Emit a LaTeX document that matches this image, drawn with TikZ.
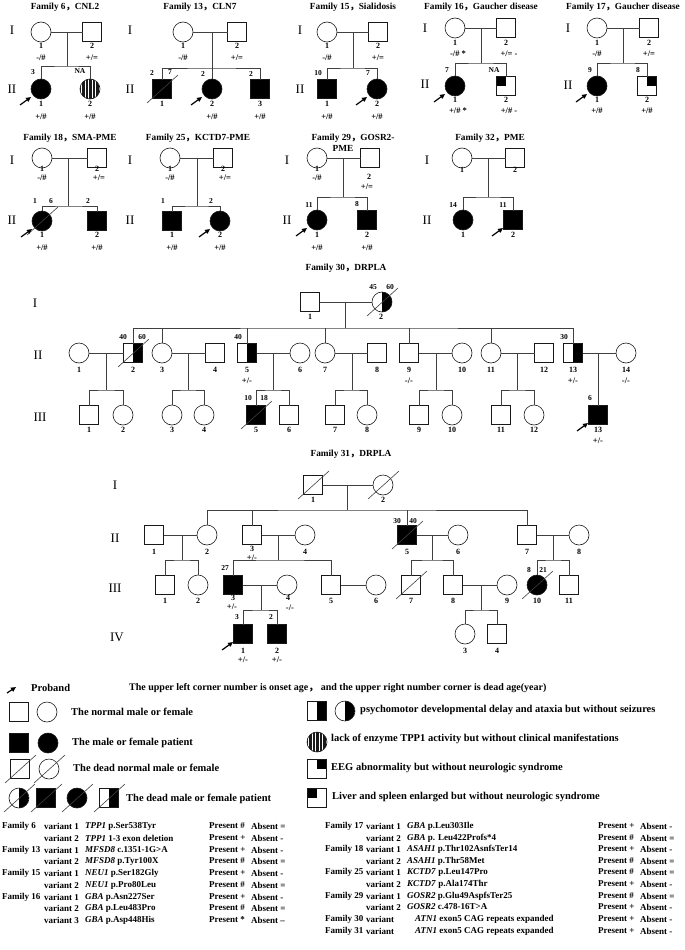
\documentclass[tikz,border=0pt]{standalone}
\usepackage{fontspec}
\setmainfont{Liberation Serif}
\newfontfamily\cjk{Noto Sans CJK SC}
\usetikzlibrary{arrows.meta}
\newcommand\tx[5]{\node[#1] (#2) at (#3,#4) {#5};}
\newcommand\dslash[1]{\draw[ln] ([shift={(-15,14)}]#1.center) -- ([shift={(16,-14)}]#1.center);}
\newcommand\prob[1]{\draw[parr] ([shift={(-21,16)}]#1.center) -- ([shift={(-10,8)}]#1.center);}
\newcommand\fwc{{\cjk ，}}
\newcommand\lrow[7]{%
 \node[tab] (#1f) at (2,#2) {#3};
 \node[tab] (#1v) at (44,#2) {#4};
 \node[tab] (#1g) at (85,#2) {#5};
 \node[tab] (#1p) at (209,#2) {#6};
 \node[tab] (#1a) at (251,#2) {#7};}
\newcommand\rrow[8]{%
 \node[tab] (#1f) at (325,#2) {#3};
 \node[tab] (#1v) at (366,#2) {#4};
 \node[tab] (#1g) at (#8,#2) {#5};
 \node[tab] (#1p) at (598,#2) {#6};
 \node[tab] (#1a) at (640,#2) {#7};}
\tikzset{
 ln/.style={draw=black!75, line width=0.6pt},
 sym/.style={draw=black!90, line width=0.6pt, inner sep=0pt, outer sep=0pt},
 male/.style={sym, shape=rectangle, minimum width=19pt, minimum height=19pt},
 female/.style={sym, shape=circle, minimum size=20pt},
 aff/.style={fill=black},
 halfr/.style={path picture={\fill[black] (path picture bounding box.north) rectangle (path picture bounding box.south east);}},
 qur/.style={path picture={\fill[black] (path picture bounding box.north) rectangle (path picture bounding box.east);}},
 qul/.style={path picture={\fill[black] (path picture bounding box.north) rectangle (path picture bounding box.west);}},
 stripes/.style={path picture={\foreach \k in {-9.6,-8.2,...,9.7}{\draw[line width=0.5pt] ([xshift=\k pt]path picture bounding box.north) -- ([xshift=\k pt]path picture bounding box.south);}}},
 parr/.style={line width=1.2pt, -{Triangle[length=5pt,width=4.5pt]}},
 title/.style={font=\bfseries\fontsize{9.3}{10}\selectfont, inner sep=0pt},
 gen/.style={font=\fontsize{13}{14}\selectfont, inner sep=0pt},
 num/.style={font=\bfseries\fontsize{8}{9}\selectfont, inner sep=0pt},
 geno/.style={font=\bfseries\fontsize{8.5}{10}\selectfont, inner sep=0pt},
 age/.style={font=\bfseries\fontsize{7.5}{8}\selectfont, inner sep=0pt},
 leg/.style={font=\bfseries\fontsize{10.5}{11}\selectfont, anchor=west, inner sep=0pt},
 tab/.style={font=\bfseries\fontsize{9}{10}\selectfont, anchor=west, inner sep=0pt},
}
\begin{document}
\begin{tikzpicture}[x=1pt,y=-1pt]
\useasboundingbox (0,0) rectangle (685,950);
\fill[white] (0,0) rectangle (685,950);
% ---------------- Family 6
\tx{title}{t6}{65}{7}{Family 6\fwc CNL2}
\tx{gen}{f6g1}{12}{30}{I}
\tx{gen}{f6g2}{12}{89}{II}
\node[female] (f6a) at (41,32) {};
\node[male] (f6b) at (92,32) {};
\node[female,aff] (f6c) at (41,89) {};
\node[female,stripes] (f6d) at (90,89) {};
\coordinate (f6m) at (67,32); \coordinate (f6s) at (67,66);
\draw[ln] (f6a) -- (f6b); \draw[ln] (f6m) -- (f6s);
\draw[ln] (f6c.north) |- (f6s) -| (f6d.north);
\tx{num}{f6an}{41}{46}{1} \tx{geno}{f6ag}{41}{58}{-/\#}
\tx{num}{f6bn}{92}{46}{2} \tx{geno}{f6bg}{92}{58}{+/=}
\tx{age}{f6cy}{33}{72}{3} \tx{age}{f6dy}{80}{71}{NA}
\tx{num}{f6cn}{41}{104}{1} \tx{geno}{f6cg}{41}{117}{+/\#}
\tx{num}{f6dn}{90}{104}{2} \tx{geno}{f6dg}{90}{117}{+/\#}
\prob{f6c}
% ---------------- Family 13
\tx{title}{t13}{200}{7}{Family 13\fwc CLN7}
\tx{gen}{f13g1}{130}{30}{I}
\tx{gen}{f13g2}{130}{89}{II}
\node[female] (f13a) at (183,32) {};
\node[male] (f13b) at (237,32) {};
\node[male,aff] (f13c) at (162,89) {};
\node[female,aff] (f13d) at (212,89) {};
\node[male,aff] (f13e) at (260,89) {};
\coordinate (f13m) at (212,32); \coordinate (f13s) at (212,68);
\draw[ln] (f13a) -- (f13b); \draw[ln] (f13m) -- (f13d.north);
\draw[ln] (f13c.north) |- (f13s) -| (f13e.north);
\dslash{f13c}
\tx{num}{f13an}{183}{46}{1} \tx{geno}{f13ag}{183}{58}{-/\#}
\tx{num}{f13bn}{237}{46}{2} \tx{geno}{f13bg}{237}{58}{+/=}
\tx{age}{f13cy}{152}{73}{2} \tx{age}{f13cz}{170}{72}{7}
\tx{age}{f13dy}{203}{74}{2} \tx{age}{f13ey}{251}{74}{2}
\tx{num}{f13cn}{162}{104}{1}
\tx{num}{f13dn}{212}{104}{2} \tx{geno}{f13dg}{212}{117}{+/\#}
\tx{num}{f13en}{260}{104}{3} \tx{geno}{f13eg}{260}{117}{+/\#}
\prob{f13d}
% ---------------- Family 15
\tx{title}{t15}{353}{7}{Family 15\fwc Sialidosis}
\tx{gen}{f15g1}{300}{30}{I}
\tx{gen}{f15g2}{300}{89}{II}
\node[female] (f15a) at (327,32) {};
\node[male] (f15b) at (378,32) {};
\node[male,aff] (f15c) at (327,89) {};
\node[female,aff] (f15d) at (377,89) {};
\coordinate (f15m) at (353,32); \coordinate (f15s) at (353,68);
\draw[ln] (f15a) -- (f15b); \draw[ln] (f15m) -- (f15s);
\draw[ln] (f15c.north) |- (f15s) -| (f15d.north);
\tx{num}{f15an}{327}{46}{1} \tx{geno}{f15ag}{327}{58}{-/\#}
\tx{num}{f15bn}{378}{46}{2} \tx{geno}{f15bg}{378}{58}{+/=}
\tx{age}{f15cy}{318}{73}{10} \tx{age}{f15dy}{368}{73}{7}
\tx{num}{f15cn}{327}{104}{1} \tx{geno}{f15cg}{327}{117}{+/\#}
\tx{num}{f15dn}{377}{104}{2} \tx{geno}{f15dg}{377}{117}{+/\#}
\prob{f15d}
% ---------------- Family 16
\tx{title}{t16}{481}{7}{Family 16\fwc Gaucher disease}
\tx{gen}{f16g1}{425}{28}{I}
\tx{gen}{f16g2}{425}{84}{II}
\node[female] (f16a) at (455,28) {};
\node[male] (f16b) at (506,28) {};
\node[female,aff] (f16c) at (455,86) {};
\node[male,qul] (f16d) at (506,86) {};
\coordinate (f16m) at (481,28); \coordinate (f16s) at (481,63);
\draw[ln] (f16a) -- (f16b); \draw[ln] (f16m) -- (f16s);
\draw[ln] (f16c.north) |- (f16s) -| (f16d.north);
\tx{num}{f16an}{455}{43}{1} \tx{geno}{f16ag}{458}{54}{-/\# *}
\tx{num}{f16bn}{506}{43}{2} \tx{geno}{f16bg}{509}{54}{+/= -}
\tx{age}{f16cy}{447}{70}{7} \tx{age}{f16dy}{494}{70}{NA}
\tx{num}{f16cn}{455}{100}{1} \tx{geno}{f16cg}{458}{111}{+/\# *}
\tx{num}{f16dn}{506}{100}{2} \tx{geno}{f16dg}{509}{111}{+/\# -}
\prob{f16c}
% ---------------- Family 17
\tx{title}{t17}{623}{7}{Family 17\fwc Gaucher disease}
\tx{gen}{f17g1}{568}{28}{I}
\tx{gen}{f17g2}{568}{85}{II}
\node[female] (f17a) at (597,28) {};
\node[male] (f17b) at (649,28) {};
\node[female,aff] (f17c) at (597,86) {};
\node[male,qur] (f17d) at (647,86) {};
\coordinate (f17m) at (623,28); \coordinate (f17s) at (623,63);
\draw[ln] (f17a) -- (f17b); \draw[ln] (f17m) -- (f17s);
\draw[ln] (f17c.north) |- (f17s) -| (f17d.north);
\tx{num}{f17an}{597}{43}{1} \tx{geno}{f17ag}{597}{54}{-/\#}
\tx{num}{f17bn}{649}{43}{2} \tx{geno}{f17bg}{649}{54}{+/=}
\tx{age}{f17cy}{590}{70}{9} \tx{age}{f17dy}{638}{70}{8}
\tx{num}{f17cn}{597}{100}{1} \tx{geno}{f17cg}{597}{111}{+/\#}
\tx{num}{f17dn}{647}{100}{2} \tx{geno}{f17dg}{647}{111}{+/\#}
\prob{f17c}
% ---------------- Family 18
\tx{title}{t18}{70}{138}{Family 18\fwc SMA-PME}
\tx{gen}{f18g1}{12}{160}{I}
\tx{gen}{f18g2}{12}{220}{II}
\node[female] (f18a) at (42,158) {};
\node[male] (f18b) at (97,158) {};
\node[female,aff] (f18c) at (42,221) {};
\node[male,aff] (f18d) at (97,221) {};
\coordinate (f18m) at (68,158); \coordinate (f18s) at (68,206);
\draw[ln] (f18a) -- (f18b); \draw[ln] (f18m) -- (f18s);
\draw[ln] (f18c.north) |- (f18s) -| (f18d.north);
\dslash{f18c}
\tx{num}{f18an}{42}{169}{1} \tx{geno}{f18ag}{42}{178}{-/\#}
\tx{num}{f18bn}{97}{169}{2} \tx{geno}{f18bg}{99}{178}{+/=}
\tx{age}{f18cy}{35}{201}{1} \tx{age}{f18cz}{51}{201}{6} \tx{age}{f18dy}{88}{201}{2}
\tx{num}{f18cn}{42}{235}{1} \tx{geno}{f18cg}{42}{248}{+/\#}
\tx{num}{f18dn}{97}{235}{2} \tx{geno}{f18dg}{97}{248}{+/\#}
\prob{f18c}
% ---------------- Family 25
\tx{title}{t25}{198}{138}{Family 25\fwc KCTD7-PME}
\tx{gen}{f25g1}{130}{160}{I}
\tx{gen}{f25g2}{130}{220}{II}
\node[female] (f25a) at (170,158) {};
\node[male] (f25b) at (223,158) {};
\node[male,aff] (f25c) at (172,221) {};
\node[female,aff] (f25d) at (220,221) {};
\coordinate (f25m) at (197,158); \coordinate (f25s) at (197,206);
\draw[ln] (f25a) -- (f25b); \draw[ln] (f25m) -- (f25s);
\draw[ln] (f25c.north) |- (f25s) -| (f25d.north);
\tx{num}{f25an}{170}{169}{1} \tx{geno}{f25ag}{170}{178}{-/\#}
\tx{num}{f25bn}{223}{169}{2} \tx{geno}{f25bg}{225}{178}{+/=}
\tx{age}{f25cy}{163}{201}{1} \tx{age}{f25dy}{211}{201}{2}
\tx{num}{f25cn}{172}{235}{1} \tx{geno}{f25cg}{172}{248}{+/\#}
\tx{num}{f25dn}{220}{235}{2} \tx{geno}{f25dg}{220}{248}{+/\#}
\prob{f25d}
% ---------------- Family 29
\tx{title}{t29}{353}{138}{Family 29\fwc GOSR2-}
\tx{title}{t29b}{343}{148}{PME}
\tx{gen}{f29g1}{287}{160}{I}
\tx{gen}{f29g2}{287}{220}{II}
\node[female] (f29a) at (317,158) {};
\node[male] (f29b) at (370,158) {};
\node[female,aff] (f29c) at (317,220) {};
\node[male,aff] (f29d) at (367,220) {};
\coordinate (f29m) at (343,158); \coordinate (f29s) at (343,197);
\draw[ln] (f29a) -- (f29b); \draw[ln] (f29m) -- (f29s);
\draw[ln] (f29c.north) |- (f29s) -| (f29d.north);
\tx{num}{f29an}{317}{169}{1} \tx{geno}{f29ag}{317}{178}{-/\#}
\tx{num}{f29bn}{369}{177}{2} \tx{geno}{f29bg}{367}{187}{+/=}
\tx{age}{f29cy}{309}{205}{11} \tx{age}{f29dy}{357}{204}{8}
\tx{num}{f29cn}{317}{235}{1} \tx{geno}{f29cg}{317}{248}{+/\#}
\tx{num}{f29dn}{367}{235}{2} \tx{geno}{f29dg}{367}{248}{+/\#}
\prob{f29c}
% ---------------- Family 32
\tx{title}{t32}{490}{138}{Family 32\fwc PME}
\tx{gen}{f32g1}{427}{160}{I}
\tx{gen}{f32g2}{427}{220}{II}
\node[female] (f32a) at (462,158) {};
\node[male] (f32b) at (515,158) {};
\node[female,aff] (f32c) at (463,220) {};
\node[male,aff] (f32d) at (513,220) {};
\coordinate (f32m) at (488,158); \coordinate (f32s) at (488,197);
\draw[ln] (f32a) -- (f32b); \draw[ln] (f32m) -- (f32s);
\draw[ln] (f32c.north) |- (f32s) -| (f32d.north);
\tx{num}{f32an}{462}{170}{1} \tx{num}{f32bn}{515}{170}{2}
\tx{age}{f32cy}{453}{205}{14} \tx{age}{f32dy}{503}{205}{11}
\tx{num}{f32cn}{463}{235}{1} \tx{num}{f32dn}{513}{235}{2}
\prob{f32d}
% ---------------- Family 30
\tx{title}{t30}{346}{268}{Family 30\fwc DRPLA}
\tx{gen}{f30g1}{35}{303}{I}
\tx{gen}{f30g2}{38}{355}{II}
\tx{gen}{f30g3}{40}{417}{III}
\node[male] (f30a1) at (310,302) {};
\node[female,halfr] (f30a2) at (382,302) {};
\draw[ln] (f30a1) -- (f30a2);
\dslash{f30a2}
\tx{age}{f30a2y}{373}{287}{45} \tx{age}{f30a2z}{390}{287}{60}
\tx{num}{f30a1n}{310}{317}{1} \tx{num}{f30a2n}{381}{317}{2}
\coordinate (f30m) at (345,302); \coordinate (f30s) at (345,328);
\draw[ln] (f30m) -- (f30s);
\node[female] (f30b1) at (79,353) {};
\node[male,halfr] (f30b2) at (133,353) {};
\node[female] (f30b3) at (162,353) {};
\node[male] (f30b4) at (215,353) {};
\node[male,halfr] (f30b5) at (247,353) {};
\node[female] (f30b6) at (300,353) {};
\node[female] (f30b7) at (325,353) {};
\node[male] (f30b8) at (377,353) {};
\node[male] (f30b9) at (409,353) {};
\node[female] (f30b10) at (462,353) {};
\node[female] (f30b11) at (491,353) {};
\node[male] (f30b12) at (544,353) {};
\node[male,halfr] (f30b13) at (573,353) {};
\node[female] (f30b14) at (626,353) {};
\dslash{f30b2}
\draw[ln] (f30b2.north) |- (f30s) -| (f30b13.north);
\foreach \c in {3,5,7,9,11}{\draw[ln] (f30b\c.north) -- (f30b\c.north |- f30s);}
\draw[ln] (f30b1) -- (f30b2); \draw[ln] (f30b3) -- (f30b4); \draw[ln] (f30b5) -- (f30b6);
\draw[ln] (f30b7) -- (f30b8); \draw[ln] (f30b9) -- (f30b10); \draw[ln] (f30b11) -- (f30b12);
\draw[ln] (f30b13) -- (f30b14);
\tx{age}{f30b2y}{123}{337}{40} \tx{age}{f30b2z}{142}{337}{60}
\tx{age}{f30b5y}{238}{337}{40} \tx{age}{f30b13y}{564}{337}{30}
\tx{num}{f30b1n}{79}{370}{1} \tx{num}{f30b2n}{133}{370}{2} \tx{num}{f30b3n}{162}{370}{3}
\tx{num}{f30b4n}{215}{370}{4} \tx{num}{f30b5n}{247}{370}{5} \tx{num}{f30b6n}{300}{370}{6}
\tx{num}{f30b7n}{325}{370}{7} \tx{num}{f30b8n}{377}{370}{8} \tx{num}{f30b9n}{409}{370}{9}
\tx{num}{f30b10n}{462}{370}{10} \tx{num}{f30b11n}{491}{370}{11} \tx{num}{f30b12n}{544}{370}{12}
\tx{num}{f30b13n}{573}{370}{13} \tx{num}{f30b14n}{626}{370}{14}
\tx{geno}{f30b5g}{247}{381}{+/-} \tx{geno}{f30b9g}{409}{381}{-/-}
\tx{geno}{f30b13g}{573}{381}{+/-} \tx{geno}{f30b14g}{626}{381}{-/-}
% gen III
\node[male] (f30c1) at (89,415) {};
\node[female] (f30c2) at (123,415) {};
\node[female] (f30c3) at (172,415) {};
\node[female] (f30c4) at (204,415) {};
\node[male,aff] (f30c5) at (256,415) {};
\node[male] (f30c6) at (289,415) {};
\node[male] (f30c7) at (335,415) {};
\node[female] (f30c8) at (367,415) {};
\node[male] (f30c9) at (419,415) {};
\node[female] (f30c10) at (452,415) {};
\node[male] (f30c11) at (501,415) {};
\node[female] (f30c12) at (534,415) {};
\node[male,aff] (f30c13) at (598,415) {};
\dslash{f30c5}
\coordinate (f30m1) at (106,353); \coordinate (f30s1) at (106,390);
\coordinate (f30m2) at (188,353); \coordinate (f30s2) at (188,390);
\coordinate (f30m3) at (273,353); \coordinate (f30s3) at (273,390);
\coordinate (f30m4) at (352,353); \coordinate (f30s4) at (352,390);
\coordinate (f30m5) at (436,353); \coordinate (f30s5) at (436,390);
\coordinate (f30m6) at (517,353); \coordinate (f30s6) at (517,390);
\coordinate (f30m7) at (598,353);
\draw[ln] (f30m1) -- (f30s1); \draw[ln] (f30c1.north) |- (f30s1) -| (f30c2.north);
\draw[ln] (f30m2) -- (f30s2); \draw[ln] (f30c3.north) |- (f30s2) -| (f30c4.north);
\draw[ln] (f30m3) -- (f30s3); \draw[ln] (f30c5.north) |- (f30s3) -| (f30c6.north);
\draw[ln] (f30m4) -- (f30s4); \draw[ln] (f30c7.north) |- (f30s4) -| (f30c8.north);
\draw[ln] (f30m5) -- (f30s5); \draw[ln] (f30c9.north) |- (f30s5) -| (f30c10.north);
\draw[ln] (f30m6) -- (f30s6); \draw[ln] (f30c11.north) |- (f30s6) -| (f30c12.north);
\draw[ln] (f30m7) -- (f30c13.north);
\tx{age}{f30c5y}{248}{398}{10} \tx{age}{f30c5z}{264}{398}{18} \tx{age}{f30c13y}{590}{398}{6}
\tx{num}{f30c1n}{89}{430}{1} \tx{num}{f30c2n}{123}{430}{2} \tx{num}{f30c3n}{172}{430}{3}
\tx{num}{f30c4n}{204}{430}{4} \tx{num}{f30c5n}{256}{430}{5} \tx{num}{f30c6n}{289}{430}{6}
\tx{num}{f30c7n}{335}{430}{7} \tx{num}{f30c8n}{367}{430}{8} \tx{num}{f30c9n}{419}{430}{9}
\tx{num}{f30c10n}{452}{430}{10} \tx{num}{f30c11n}{501}{430}{11} \tx{num}{f30c12n}{534}{430}{12}
\tx{num}{f30c13n}{598}{430}{13} \tx{geno}{f30c13g}{598}{441}{+/-}
\prob{f30c13}
% ---------------- Family 31
\tx{title}{t31}{351}{454}{Family 31\fwc DRPLA}
\tx{gen}{f31g1}{115}{485}{I}
\tx{gen}{f31g2}{115}{538}{II}
\tx{gen}{f31g3}{115}{588}{III}
\tx{gen}{f31g4}{117}{637}{IV}
\node[male] (f31a1) at (313,485) {};
\node[female] (f31a2) at (383,485) {};
\dslash{f31a1} \dslash{f31a2}
\draw[ln] (f31a1) -- (f31a2);
\tx{num}{f31a1n}{313}{500}{1} \tx{num}{f31a2n}{383}{500}{2}
\coordinate (f31m) at (347,485); \coordinate (f31s) at (347,510);
\draw[ln] (f31m) -- (f31s);
\node[male] (f31b1) at (154,535) {};
\node[female] (f31b2) at (207,535) {};
\node[male] (f31b3) at (252,535) {};
\node[female] (f31b4) at (305,535) {};
\node[male,aff] (f31b5) at (407,535) {};
\node[female] (f31b6) at (458,535) {};
\node[male] (f31b7) at (527,535) {};
\node[female] (f31b8) at (579,535) {};
\dslash{f31b5}
\draw[ln] (f31b2.north) |- (f31s) -| (f31b7.north);
\draw[ln] (f31b3.north) -- (f31b3.north |- f31s);
\draw[ln] (f31b5.north) -- (f31b5.north |- f31s);
\draw[ln] (f31b1) -- (f31b2); \draw[ln] (f31b3) -- (f31b4);
\draw[ln] (f31b5) -- (f31b6); \draw[ln] (f31b7) -- (f31b8);
\tx{age}{f31b5y}{397}{521}{30} \tx{age}{f31b5z}{413}{521}{40}
\tx{num}{f31b1n}{154}{552}{1} \tx{num}{f31b2n}{207}{552}{2}
\tx{num}{f31b3n}{252}{549}{3} \tx{geno}{f31b3g}{252}{558}{+/-}
\tx{num}{f31b4n}{305}{552}{4} \tx{num}{f31b5n}{407}{552}{5} \tx{num}{f31b6n}{458}{552}{6}
\tx{num}{f31b7n}{527}{552}{7} \tx{num}{f31b8n}{579}{552}{8}
% gen III
\node[male] (f31c1) at (165,585) {};
\node[female] (f31c2) at (198,585) {};
\node[male,aff] (f31c3) at (233,585) {};
\node[female] (f31c4) at (287,585) {};
\node[male] (f31c5) at (331,585) {};
\node[female] (f31c6) at (376,585) {};
\node[male] (f31c7) at (411,585) {};
\node[male] (f31c8) at (453,585) {};
\node[female] (f31c9) at (507,585) {};
\node[female,aff] (f31c10) at (537,585) {};
\node[male] (f31c11) at (569,585) {};
\dslash{f31c7} \dslash{f31c10}
\coordinate (f31m1) at (182,535); \coordinate (f31s1) at (182,560);
\coordinate (f31m2) at (278,535); \coordinate (f31s2) at (278,560);
\coordinate (f31m3) at (432,535); \coordinate (f31s3) at (432,560);
\coordinate (f31m4) at (553,535); \coordinate (f31s4) at (553,560);
\draw[ln] (f31m1) -- (f31s1); \draw[ln] (f31c1.north) |- (f31s1) -| (f31c2.north);
\draw[ln] (f31m2) -- (f31s2); \draw[ln] (f31c3.north) |- (f31s2) -| (f31c5.north);
\draw[ln] (f31m3) -- (f31s3); \draw[ln] (f31c7.north) |- (f31s3) -| (f31c8.north);
\draw[ln] (f31m4) -- (f31s4); \draw[ln] (f31c10.north) |- (f31s4) -| (f31c11.north);
\draw[ln] (f31c3) -- (f31c4); \draw[ln] (f31c5) -- (f31c6); \draw[ln] (f31c8) -- (f31c9);
\tx{age}{f31c3y}{225}{568}{27} \tx{age}{f31c10y}{529}{570}{8} \tx{age}{f31c10z}{543}{570}{21}
\tx{num}{f31c1n}{165}{601}{1} \tx{num}{f31c2n}{198}{601}{2}
\tx{num}{f31c3n}{233}{598}{3} \tx{geno}{f31c3g}{232}{607}{+/-}
\tx{num}{f31c4n}{288}{598}{4} \tx{geno}{f31c4g}{290}{608}{-/-}
\tx{num}{f31c5n}{331}{601}{5} \tx{num}{f31c6n}{376}{601}{6} \tx{num}{f31c7n}{411}{601}{7}
\tx{num}{f31c8n}{453}{601}{8} \tx{num}{f31c9n}{507}{601}{9} \tx{num}{f31c10n}{537}{601}{10}
\tx{num}{f31c11n}{569}{601}{11}
% gen IV
\node[male,aff] (f31d1) at (243,634) {};
\node[male,aff] (f31d2) at (277,634) {};
\node[female] (f31d3) at (465,634) {};
\node[male] (f31d4) at (497,634) {};
\coordinate (f31m5) at (261,585); \coordinate (f31s5) at (261,610);
\coordinate (f31m6) at (481,585); \coordinate (f31s6) at (481,610);
\draw[ln] (f31m5) -- (f31s5); \draw[ln] (f31d1.north) |- (f31s5) -| (f31d2.north);
\draw[ln] (f31m6) -- (f31s6); \draw[ln] (f31d3.north) |- (f31s6) -| (f31d4.north);
\tx{age}{f31d1y}{237}{617}{3} \tx{age}{f31d2y}{271}{617}{2}
\tx{num}{f31d1n}{243}{651}{1} \tx{geno}{f31d1g}{243}{660}{+/-}
\tx{num}{f31d2n}{277}{651}{2} \tx{geno}{f31d2g}{277}{660}{+/-}
\tx{num}{f31d3n}{465}{651}{3} \tx{num}{f31d4n}{497}{651}{4}
\prob{f31d1}
% ---------------- Legend
\coordinate (lpa) at (7,693); \coordinate (lpb) at (16,687);
\draw[parr] (lpa) -- (lpb);
\node[leg] (lp) at (31,688) {Proband};
\node[leg,font=\bfseries\fontsize{10}{11}\selectfont] (lnote) at (129,688) {The upper left corner number is onset age\fwc\ and the upper right number corner is dead age(year)};
\node[male] (l1a) at (19,712) {};
\node[female] (l1b) at (47,712) {};
\node[leg] (l1t) at (71,712) {The normal male or female};
\node[male,aff] (l2a) at (19,743) {};
\node[female,aff] (l2b) at (48,743) {};
\node[leg] (l2t) at (72,743) {The male or female patient};
\node[male] (l3a) at (20,769) {};
\node[female] (l3b) at (49,769) {};
\dslash{l3a} \dslash{l3b}
\node[leg] (l3t) at (73,768) {The dead normal male or female};
\node[female,halfr] (l4a) at (19,798) {};
\node[male,aff] (l4b) at (46,798) {};
\node[female,aff] (l4c) at (77,798) {};
\node[male,halfr] (l4d) at (109,798) {};
\dslash{l4a} \dslash{l4b} \dslash{l4c} \dslash{l4d}
\node[leg] (l4t) at (126,799) {The dead male or female patient};
\node[male,halfr] (r1a) at (317,711) {};
\node[female,halfr] (r1b) at (345,711) {};
\node[leg] (r1t) at (360,710) {psychomotor developmental delay and ataxia but without seizures};
\node[female,stripes] (r2a) at (317,742) {};
\node[leg] (r2t) at (331,739) {lack of enzyme TPP1 activity but without clinical manifestations};
\node[male,qur] (r3a) at (317,769) {};
\node[leg] (r3t) at (331,768) {EEG abnormality but without neurologic syndrome};
\node[male,qul] (r4a) at (317,798) {};
\node[leg] (r4t) at (332,797) {Liver and spleen enlarged but without neurologic syndrome};
% ---------------- Variant table (left)
\lrow{ta}{826}{Family 6}{variant 1}{\textit{TPP1} p.Ser538Tyr}{Present \#}{Absent =}
\lrow{tb}{838}{}{variant 2}{\textit{TPP1} 1-3 exon deletion}{Present +}{Absent -}
\lrow{tc}{850}{Family 13}{variant 1}{\textit{MFSD8} c.1351-1G>A}{Present +}{Absent -}
\lrow{td}{861}{}{variant 2}{\textit{MFSD8} p.Tyr100X}{Present \#}{Absent =}
\lrow{te}{873}{Family 15}{variant 1}{\textit{NEU1} p.Ser182Gly}{Present +}{Absent -}
\lrow{tf}{885}{}{variant 2}{\textit{NEU1} p.Pro80Leu}{Present \#}{Absent =}
\lrow{tg}{897}{Family 16}{variant 1}{\textit{GBA} p.Asn227Ser}{Present +}{Absent -}
\lrow{th}{908}{}{variant 2}{\textit{GBA} p.Leu483Pro}{Present \#}{Absent =}
\lrow{ti}{920}{}{variant 3}{\textit{GBA} p.Asp448His}{Present *}{Absent –}
% ---------------- Variant table (right)
\rrow{ua}{826}{Family 17}{variant 1}{\textit{GBA} p.Leu303Ile}{Present +}{Absent -}{407}
\rrow{ub}{838}{}{variant 2}{\textit{GBA} p. Leu422Profs*4}{Present \#}{Absent =}{407}
\rrow{uc}{849}{Family 18}{variant 1}{\textit{ASAH1} p.Thr102AsnfsTer14}{Present +}{Absent -}{407}
\rrow{ud}{861}{}{variant 2}{\textit{ASAH1} p.Thr58Met}{Present \#}{Absent =}{407}
\rrow{ue}{872}{Family 25}{variant 1}{\textit{KCTD7} p.Leu147Pro}{Present \#}{Absent =}{407}
\rrow{uf}{884}{}{variant 2}{\textit{KCTD7} p.Ala174Thr}{Present +}{Absent -}{407}
\rrow{ug}{896}{Family 29}{variant 1}{\textit{GOSR2} p.Glu49AspfsTer25}{Present \#}{Absent =}{407}
\rrow{uh}{907}{}{variant 2}{\textit{GOSR2} c.478-16T>A}{Present +}{Absent -}{407}
\rrow{ui}{919}{Family 30}{variant}{\textit{ATN1} exon5 CAG repeats expanded}{Present +}{Absent -}{415}
\rrow{uj}{931}{Family 31}{variant}{\textit{ATN1} exon5 CAG repeats expanded}{Present +}{Absent -}{415}
\end{tikzpicture}
\end{document}
